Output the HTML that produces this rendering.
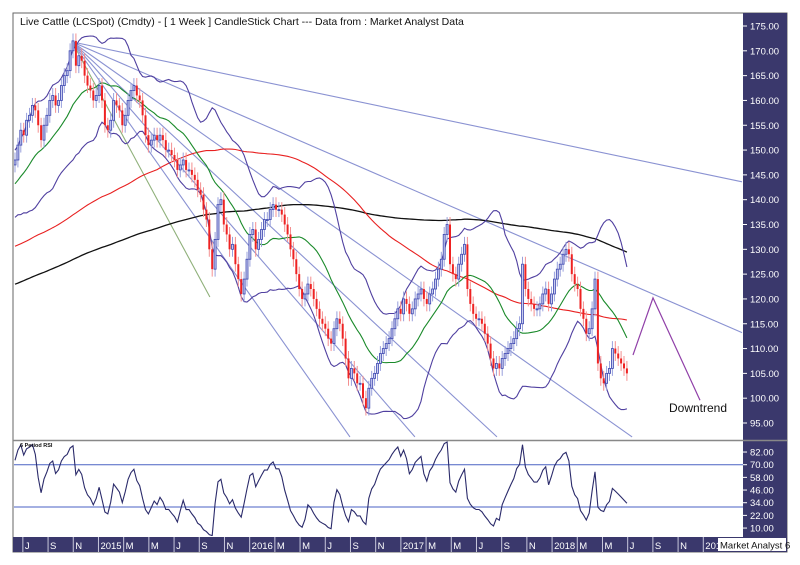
<!DOCTYPE html>
<html><head><meta charset="utf-8"><style>
html,body{margin:0;padding:0;background:#fff;}
svg{display:block;font-family:"Liberation Sans",sans-serif;}
</style></head><body>
<svg id="chart" width="800" height="565" viewBox="0 0 800 565">
<defs>
<clipPath id="pc"><rect x="14" y="14" width="729" height="426"/></clipPath>
<clipPath id="rc"><rect x="14" y="441" width="729" height="95"/></clipPath>
</defs>
<rect x="13" y="13" width="774" height="539" fill="#fff" stroke="#666" stroke-width="1"/>
<rect x="743" y="13" width="44" height="539" fill="#3a386c"/>
<line x1="13" y1="440.5" x2="787" y2="440.5" stroke="#888" stroke-width="1.5"/>
<rect x="13" y="537" width="774" height="15" fill="#3a386c"/>
<text x="20" y="25" font-size="10.5" fill="#111">Live Cattle (LCSpot) (Cmdty) -  [ 1 Week ] CandleStick Chart --- Data from : Market Analyst Data</text>
<g id="fan" clip-path="url(#pc)"></g>
<g id="ma" clip-path="url(#pc)"></g>
<g id="candles" clip-path="url(#pc)"></g>
<g id="anno"></g>
<text x="669" y="412" font-size="12" fill="#111">Downtrend</text>
<g id="paxis"></g>
<g id="rsi"></g>
<text x="20" y="447" font-size="5.5" font-weight="bold" fill="#111">6 Period RSI</text>
<g id="taxis"></g>
<rect x="718" y="538" width="68" height="13" fill="#fff"/>
<text x="720" y="548.5" font-size="9.5" fill="#111">Market Analyst 6</text>
</svg>
<script>
const history = [104,105,106,105,106,107,108,107,108,109,
108,109,110,111,110,111,112,113,112,113,
114,115,114,113,114,115,116,117,116,117,
118,117,116,115,114,113,112,113,114,115,
116,117,118,119,120,119,118,117,116,115,
114,113,112,111,112,113,114,115,116,117,
116,115,114,113,112,113,114,115,116,117,
118,119,120,121,122,121,120,119,118,117,
116,115,116,117,118,119,120,121,122,121,
120,119,118,119,120,121,122,123,122,121,
124,125,126,127,128,127,126,125,126,127,
128,129,130,129,128,127,126,127,128,129,
130,129,128,127,126,125,126,127,128,129,
130,131,130,129,128,127,126,127,128,129,
128,127,126,125,126,127,128,129,130,129,
118,119,120,121,122,121,122,123,124,125,
124,125,126,127,128,127,126,127,128,129,
128,129,130,131,132,133,134,135,136,137,
136,137,138,139,140,139,140,141,142,143,
144,145,146,145,144,145,146,147,148,147];
const closes = [148,151,154,153,156,157,159,158,155,152,
155,157,160,161,159,160,163,165,166,170,
172,167,169,168,165,163,162,160,161,163,
160,155,154,156,160,159,158,155,157,160,
162,163,161,160,157,153,151,152,153,152,
153,152,150,150,149,148,146,147,148,146,
146,145,144,142,141,138,136,130,126,132,
139,140,135,133,130,131,127,124,121,124,
128,133,134,130,132,134,136,136,138,139,
138,138,137,135,133,130,128,125,122,120,
121,123,122,120,118,116,115,114,112,111,
114,116,115,112,108,104,106,105,103,103,
100,98,102,104,105,107,109,110,111,112,
114,116,118,117,120,119,117,118,120,121,
122,120,119,121,122,124,126,128,133,135,
127,125,124,127,129,131,122,119,117,116,
116,115,113,111,108,106,107,106,108,109,
110,111,112,114,115,127,122,120,119,118,
118,119,121,122,119,121,124,126,127,129,
130,129,125,123,122,118,116,113,114,118,
124,107,104,103,105,106,110,109,108,107,
106,105];
const priceTicks = [175,170,165,160,155,150,145,140,135,130,125,120,115,110,105,100,95];
const rsiTicks = [82,70,58,46,34,22,10];
const rsiBands = [70,30];
const timeLabels = ["J","S","N","2015","M","M","J","S","N","2016","M","M","J","S","N","2017","M","M","J","S","N","2018","M","M","J","S","N","2019"];
const fanOrigin = [19.7,171.8];
const fanTargets = [[250.7,143.6],[250.7,113.2],[212.8,92.2],[166.2,92.2],[137.9,92.2],[115.5,92.2]];
const fanSteep = [67.2,120.4];
const downtrendPts = [[213.1,108.7],[220,120.2],[236.2,99.6]];

const NS="http://www.w3.org/2000/svg";
const X = i => 15 + i*2.9;
const Y = p => 26 + (175-p)*4.9625;
const RY = v => 464.7 + (70-v)*1.056;
function mk(tag,attrs,parent){const e=document.createElementNS(NS,tag);for(const k in attrs)e.setAttribute(k,attrs[k]);parent.appendChild(e);return e;}
const g=id=>document.getElementById(id);

priceTicks.forEach(p=>{
  const t=mk('line',{x1:743,x2:747,y1:Y(p),y2:Y(p),stroke:'#fff'},g('paxis'));
  
  
  const tx=mk('text',{x:750,y:Y(p)+3.5,'font-size':9.5,fill:'#fff'},g('paxis'));
  tx.textContent=p.toFixed(2);
  
  
});
fanTargets.forEach(t=>{
  const l=mk('line',{x1:X(fanOrigin[0]),y1:Y(fanOrigin[1]),x2:X(t[0]),y2:Y(t[1]),stroke:'#8a92d2','stroke-width':1.1},g('fan'));
  
  
});
{const l=mk('line',{x1:X(fanOrigin[0]),y1:Y(fanOrigin[1]),x2:X(fanSteep[0]),y2:Y(fanSteep[1]),stroke:'#8fb07a','stroke-width':1.1},g('fan'));

}

const all = history.concat(closes);
const H = history.length;
function sma(n,idx){let s=0,c=0;for(let k=Math.max(0,idx-n+1);k<=idx;k++){s+=all[k];c++;}return s/c;}
function sd(n,idx,m){let s=0,c=0;for(let k=Math.max(0,idx-n+1);k<=idx;k++){s+=(all[k]-m)**2;c++;}return Math.sqrt(s/c);}
function line(pts,color,w,name,parent){
  const p=mk('polyline',{points:pts.map(q=>q[0].toFixed(1)+','+q[1].toFixed(1)).join(' '),fill:'none',stroke:color,'stroke-width':w},parent);
  
  
}
const up=[],lo=[],mid=[],red=[],blk=[];
closes.forEach((c,i)=>{
  const idx=H+i;const m=sma(20,idx);const s=sd(20,idx,m);
  up.push([X(i),Y(m+2*s)]);lo.push([X(i),Y(m-2*s)]);mid.push([X(i),Y(m)]);
  red.push([X(i),Y(sma(100,idx))]);blk.push([X(i),Y(sma(200,idx))]);
});
line(blk,'#111',1.3,'ma-200',g('ma'));
line(red,'#e82020',1.1,'ma-100',g('ma'));
line(up,'#5040a0',1.1,'bollinger-upper',g('ma'));
line(lo,'#5040a0',1.1,'bollinger-lower',g('ma'));
line(mid,'#1a8a2a',1.1,'ma-20',g('ma'));

closes.forEach((c,i)=>{
  const o = i===0 ? history[H-1] : closes[i-1];
  const hi=Math.max(o,c)+1.5, l=Math.min(o,c)-1.5;
  const upC = c>=o; const x=X(i);
  const w=mk('line',{x1:x,x2:x,y1:Y(hi),y2:Y(l),stroke:upC?'#98a0dc':'#f49090','stroke-width':1},g('candles'));
  
  
  const b=mk('rect',{x:x-1,y:Y(Math.max(o,c)),width:2,height:Math.max(1,Math.abs(Y(o)-Y(c))),fill:upC?'#c8ccf0':'#ee2222',stroke:upC?'#3c46b0':'none','stroke-width':0.8},g('candles'));
  
  
});

line(downtrendPts.map(q=>[X(q[0]),Y(q[1])]),'#9040a8',1.2,'downtrend-path',g('anno'));

rsiTicks.forEach(v=>{
  const t=mk('line',{x1:743,x2:747,y1:RY(v),y2:RY(v),stroke:'#fff'},g('rsi'));
  
  
  const tx=mk('text',{x:750,y:RY(v)+3.5,'font-size':9.5,fill:'#fff'},g('rsi'));
  tx.textContent=v.toFixed(2);
  
  
});
rsiBands.forEach(v=>{
  const l=mk('line',{x1:14,x2:743,y1:RY(v),y2:RY(v),stroke:'#4a62c4','stroke-width':1},g('rsi'));
  
  
});
const rsiPts=[];
let ag=0,al=0;const N=6;
for(let k=1;k<all.length;k++){
  const d=all[k]-all[k-1];const gn=Math.max(d,0),ls=Math.max(-d,0);
  if(k<=N){ag+=gn/N;al+=ls/N;} else {ag=(ag*(N-1)+gn)/N;al=(al*(N-1)+ls)/N;}
  if(k>=H){const r=al===0?100:100-100/(1+ag/al);rsiPts.push([X(k-H),RY(r)]);}
}
const rg=mk('g',{'clip-path':'url(#rc)'},g('rsi'));


line(rsiPts,'#2a2a6a',1.1,'rsi-line',rg);

timeLabels.forEach((t,k)=>{
  const x=X(3.4+k*8.69);
  const s=mk('line',{x1:x-2,x2:x-2,y1:537,y2:552,stroke:'#c8c8dc','stroke-width':1},g('taxis'));
  
  
  const tx=mk('text',{x:x,y:549,'font-size':9.5,fill:'#fff'},g('taxis'));
  tx.textContent=t;
  
  
});
</script>
</body></html>
